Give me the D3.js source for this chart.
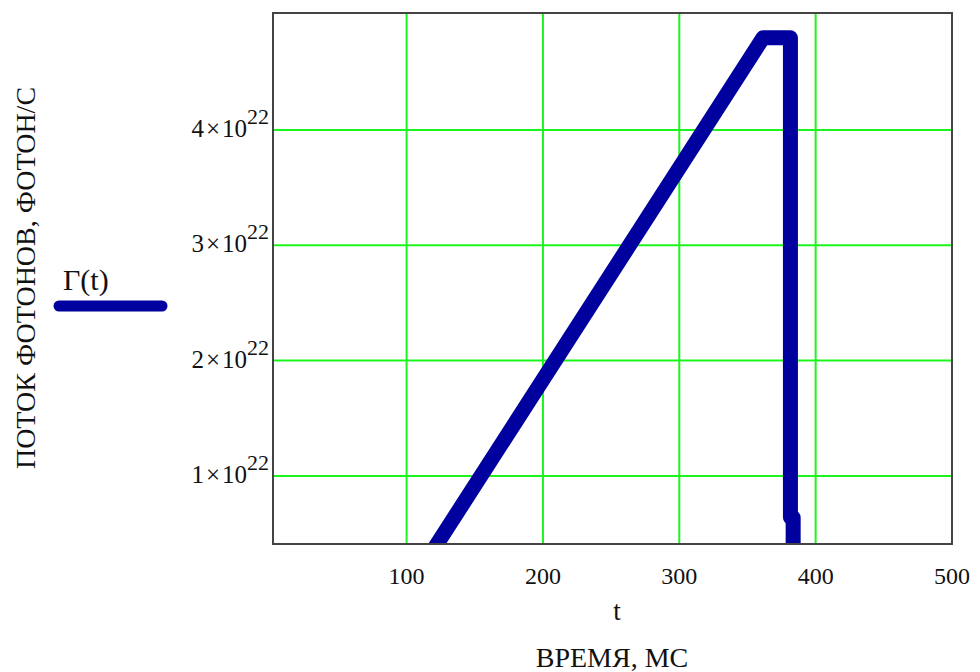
<!DOCTYPE html>
<html>
<head>
<meta charset="utf-8">
<script src="https://cdnjs.cloudflare.com/ajax/libs/d3/7.8.5/d3.min.js"></script>
<style>
  body { margin: 0; background: #fff; }
  text { font-family: "Liberation Serif", "Times New Roman", serif; fill: #111; }
</style>
</head>
<body>
<script>
// values
var timeMs = [100, 361.5, 381.5, 381.5, 383.5, 383.5];
var flux = [0, 4.8e22, 4.8e22, 0.64e22, 0.64e22, 0];
var xTicks = [100, 200, 300, 400, 500];
var yTicks = [1e22, 2e22, 3e22, 4e22];
var yTickMantissa = ['1', '2', '3', '4'];

var width = 980, height = 672;
var plot = {left: 273, right: 952, top: 13, bottom: 544};

var svg = d3.select('body').append('svg')
    .attr('width', width)
    .attr('height', height);

var x = d3.scaleLinear().domain([2, 500]).range([plot.left, plot.right]);
var y = d3.scaleLinear().domain([0.41e22, 5.014e22]).range([plot.bottom, plot.top]);

svg.append('defs').append('clipPath')
    .attr('id', 'clip')
  .append('rect')
    .attr('x', plot.left)
    .attr('y', plot.top)
    .attr('width', plot.right - plot.left)
    .attr('height', plot.bottom - plot.top);

// grid
svg.append('g')
    .selectAll('line')
    .data(xTicks.slice(0, 4))
    .enter().append('line')
    .attr('x1', function (d) { return x(d); })
    .attr('x2', function (d) { return x(d); })
    .attr('y1', plot.top)
    .attr('y2', plot.bottom)
    .attr('stroke', '#1cf51c')
    .attr('stroke-width', 2);

svg.append('g')
    .selectAll('line')
    .data(yTicks)
    .enter().append('line')
    .attr('x1', plot.left)
    .attr('x2', plot.right)
    .attr('y1', function (d) { return y(d); })
    .attr('y2', function (d) { return y(d); })
    .attr('stroke', '#1cf51c')
    .attr('stroke-width', 2);

// series
var line = d3.line()
    .x(function (d, i) { return x(timeMs[i]); })
    .y(function (d) { return y(d); });

svg.append('path')
    .datum(flux)
    .attr('clip-path', 'url(#clip)')
    .attr('d', line)
    .attr('fill', 'none')
    .attr('stroke', '#00009e')
    .attr('stroke-width', 15)
    .attr('stroke-linejoin', 'round');

// frame
svg.append('rect')
    .attr('x', plot.left)
    .attr('y', plot.top)
    .attr('width', plot.right - plot.left)
    .attr('height', plot.bottom - plot.top)
    .attr('fill', 'none')
    .attr('stroke', '#444')
    .attr('stroke-width', 2);

// x tick labels
svg.append('g')
    .selectAll('text')
    .data(xTicks)
    .enter().append('text')
    .attr('x', function (d) { return x(d); })
    .attr('y', 584)
    .attr('text-anchor', 'middle')
    .style('font-size', '24px')
    .text(function (d) { return d; });

// y tick labels like 4×10^22
var yl = svg.append('g')
    .selectAll('text')
    .data(yTicks)
    .enter().append('text')
    .attr('x', 269)
    .attr('y', function (d) { return y(d) + 7; })
    .attr('text-anchor', 'end')
    .style('font-size', '25px');

yl.append('tspan')
    .text(function (d, i) { return yTickMantissa[i]; });
yl.append('tspan')
    .attr('dx', 2)
    .text('\u00d7');
yl.append('tspan')
    .attr('dx', 2)
    .text('10');
yl.append('tspan')
    .attr('dy', -13)
    .style('font-size', '22px')
    .text('22');

// axis titles
svg.append('text')
    .attr('x', 617)
    .attr('y', 620)
    .attr('text-anchor', 'middle')
    .style('font-size', '27px')
    .text('t');

svg.append('text')
    .attr('x', 612)
    .attr('y', 667)
    .attr('text-anchor', 'middle')
    .style('font-size', '28px')
    .text('ВРЕМЯ, МС');

svg.append('text')
    .attr('transform', 'translate(35,278) rotate(-90)')
    .attr('text-anchor', 'middle')
    .style('font-size', '28px')
    .text('ПОТОК ФОТОНОВ, ФОТОН/С');

// legend
svg.append('text')
    .attr('x', 63)
    .attr('y', 290)
    .style('font-size', '30px')
    .text('\u0393(t)');

svg.append('line')
    .attr('x1', 59)
    .attr('x2', 162)
    .attr('y1', 306)
    .attr('y2', 306)
    .attr('stroke', '#00009e')
    .attr('stroke-width', 11)
    .attr('stroke-linecap', 'round');
</script>
</body>
</html>
